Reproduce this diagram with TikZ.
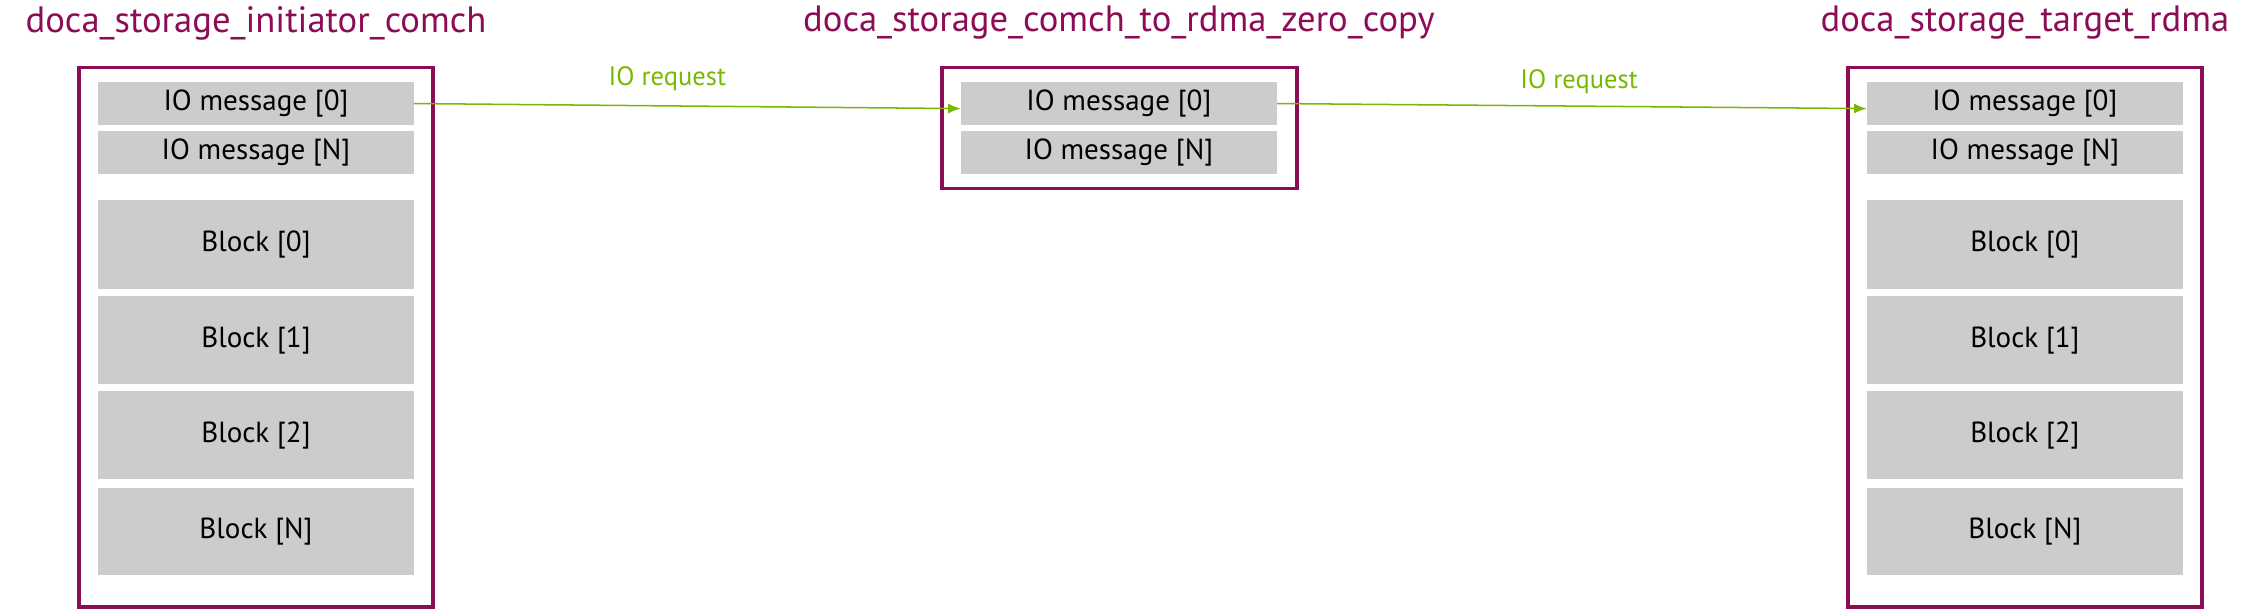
\documentclass[tikz,border=0pt]{standalone}
\usepackage{fontspec}
\setmainfont{PT Sans}
\usetikzlibrary{arrows.meta}
\definecolor{maroon}{HTML}{8C0C56}
\definecolor{nvgreen}{HTML}{76B900}
\definecolor{cellgray}{HTML}{CCCCCC}
\begin{document}
\begin{tikzpicture}[x=0.02cm,y=-0.02cm,
  frame/.style={draw=maroon,line width=1.4pt},
  cell/.style={fill=cellgray,inner sep=0pt,font=\fontsize{11.5}{13}\selectfont},
  title/.style={text=maroon,font=\fontsize{14.5}{17}\selectfont,inner sep=0pt},
  req/.style={draw=nvgreen,line width=0.6pt,-{Latex[length=5pt,width=4pt]}},
  reqlabel/.style={text=nvgreen,font=\fontsize{10.5}{12}\selectfont,inner sep=0pt}]
\useasboundingbox (0,0) rectangle (1568,428);
\newcommand{\cellbox}[6]{\fill[cellgray] (#2,#3) rectangle (#4,#5); \node[inner sep=0pt,font=\fontsize{11.5}{13}\selectfont] (#1) at ({(#2+#4)/2},{(#3+#5)/2}) {#6};
  \coordinate (#1-w) at (#2,{(#3+#5)/2}); \coordinate (#1-e) at (#4,{(#3+#5)/2});}
% titles
\node[title] (t1) at (178,16) {doca\_storage\_initiator\_comch};
\node[title] (t2) at (778,16) {doca\_storage\_comch\_to\_rdma\_zero\_copy};
\node[title] (t3) at (1408,16) {doca\_storage\_target\_rdma};
% frames
\draw[frame] (55,47) rectangle (301,422);
\draw[frame] (655,47) rectangle (902,131);
\draw[frame] (1285,47) rectangle (1531,422);
% left
\cellbox{a0}{68}{57}{288}{87}{IO message [0]}
\cellbox{aN}{68}{91}{288}{121}{IO message [N]}
\cellbox{ab0}{68}{139}{288}{201}{Block [0]}
\cellbox{ab1}{68}{206}{288}{267}{Block [1]}
\cellbox{ab2}{68}{272}{288}{333}{Block [2]}
\cellbox{abN}{68}{339}{288}{400}{Block [N]}
% middle
\cellbox{b0}{668}{57}{888}{87}{IO message [0]}
\cellbox{bN}{668}{91}{888}{121}{IO message [N]}
% right
\cellbox{c0}{1298}{57}{1518}{87}{IO message [0]}
\cellbox{cN}{1298}{91}{1518}{121}{IO message [N]}
\cellbox{cb0}{1298}{139}{1518}{201}{Block [0]}
\cellbox{cb1}{1298}{206}{1518}{267}{Block [1]}
\cellbox{cb2}{1298}{272}{1518}{333}{Block [2]}
\cellbox{cbN}{1298}{339}{1518}{400}{Block [N]}
% arrows
\draw[req] ([yshift=0pt]a0-e) -- ([yshift=-2pt]b0-w);
\node[reqlabel] (l1) at (464,55) {IO request};
\draw[req] (b0-e) -- ([yshift=-2pt]c0-w);
\node[reqlabel] (l2) at (1098,57) {IO request};
\end{tikzpicture}
\end{document}
